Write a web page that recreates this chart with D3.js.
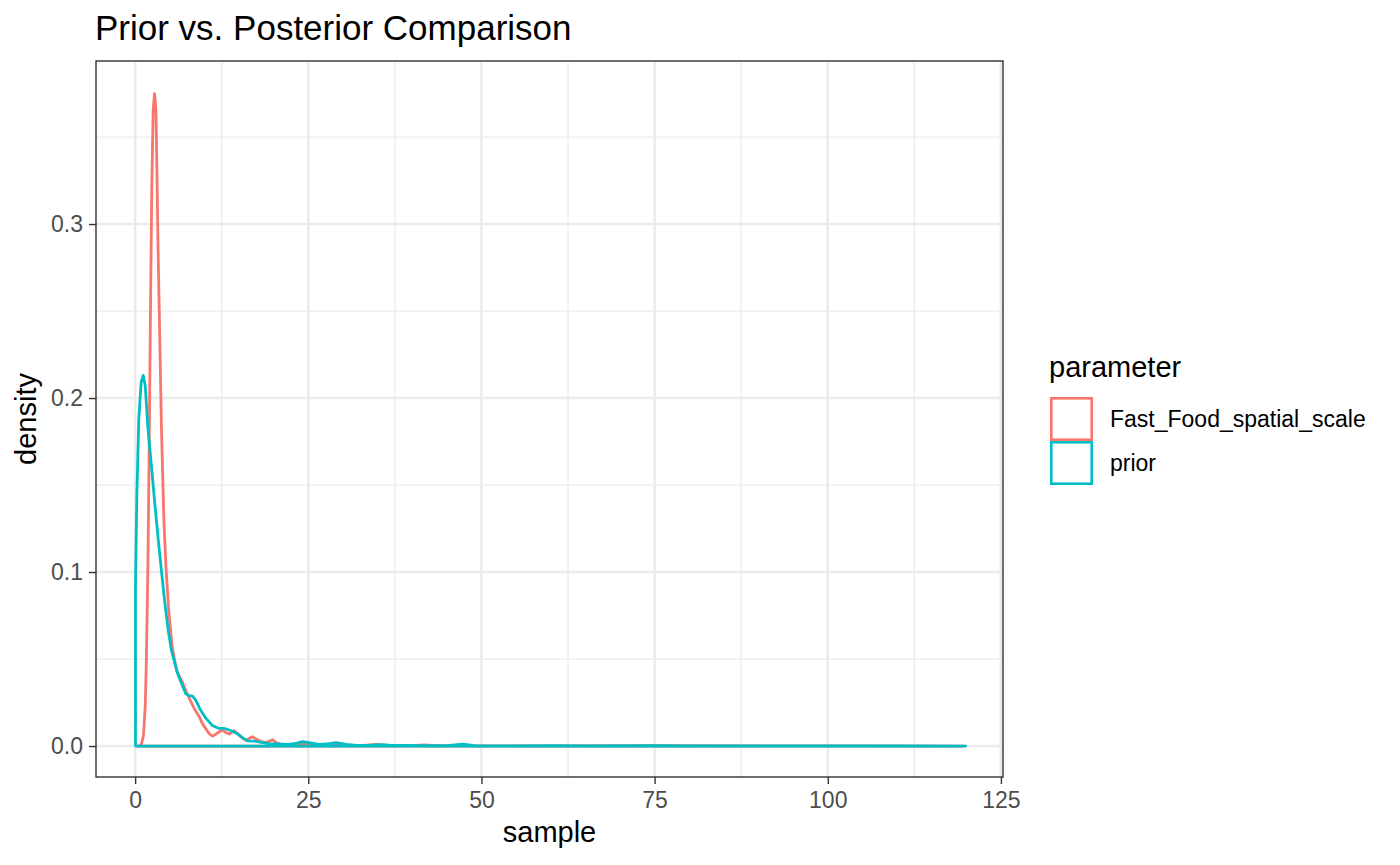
<!DOCTYPE html>
<html>
<head>
<meta charset="utf-8">
<script src="https://cdn.jsdelivr.net/npm/d3@7"></script>
<style>
  html, body { margin: 0; padding: 0; background: #fff; }
  text { font-family: "Liberation Sans", Arial, Helvetica, sans-serif; }
</style>
</head>
<body>
<div id="chart"></div>
<script>
// density curves
var postX = [0.5, 0.9, 1.2, 1.45, 1.6, 1.75, 1.85, 2.0, 2.18, 2.4, 2.6, 2.8, 3.0, 3.15, 3.3, 3.55, 3.8, 4.15,
  4.45, 4.85, 5.35, 6.0, 6.8, 7.4, 8.0, 8.6, 9.25, 9.7, 10.2, 10.7, 11.2, 11.9, 12.6, 13.1, 13.6, 14.3, 15.0,
  15.5, 16.0, 16.5, 16.95, 17.5, 18.2, 18.9, 19.4, 19.85, 20.4, 21, 22, 23, 24.2, 25.5, 27, 29, 31, 33, 34.8,
  37, 40, 41.8, 44, 47, 50, 60, 75, 90, 105, 119.5];
var postDensity = [0, 0.001, 0.006, 0.022, 0.045, 0.08, 0.105, 0.16, 0.236, 0.32, 0.365, 0.375, 0.366, 0.33,
  0.288, 0.236, 0.183, 0.13, 0.103, 0.078, 0.057, 0.043, 0.037, 0.031, 0.026, 0.021, 0.017, 0.013, 0.010, 0.007,
  0.0057, 0.0075, 0.0092, 0.0078, 0.0069, 0.0088, 0.0065, 0.0045, 0.0034, 0.0045, 0.0054, 0.004, 0.0025, 0.002,
  0.0028, 0.0036, 0.0018, 0.001, 0.0008, 0.001, 0.0014, 0.0008, 0.0005, 0.0008, 0.0003, 0.0004, 0.0009, 0.0002,
  0.0002, 0.0006, 0.0001, 0.0002, 0.0001, 0.0001, 0.0002, 0.0001, 0.00005, 0];

var priorX = [0.05, 0.24, 0.53, 0.87, 1.17, 1.46, 1.84, 2.33, 2.8, 3.3, 3.79, 4.27, 4.76, 5.24, 5.7, 6.2, 6.7,
  7.3, 7.8, 8.3, 8.8, 9.4, 10.2, 11.1, 12.1, 12.8, 13.6, 14.2, 14.8, 15.5, 16.2, 17.2, 18.4, 19.5, 20.5, 22,
  23.2, 24.2, 25.3, 26.6, 28, 29, 30.5, 32, 34, 35.5, 37, 39, 42, 45, 47.3, 49, 55, 60, 65, 75, 80, 90, 100,
  110, 119.9];
var priorDensity = [0.092, 0.143, 0.188, 0.209, 0.213, 0.207, 0.183, 0.162, 0.141, 0.12, 0.101, 0.083, 0.067,
  0.055, 0.048, 0.041, 0.036, 0.030, 0.029, 0.0287, 0.026, 0.021, 0.016, 0.012, 0.0101, 0.0102, 0.0092, 0.0082,
  0.0069, 0.0048, 0.003, 0.0028, 0.002, 0.0014, 0.0012, 0.001, 0.0015, 0.0025, 0.0018, 0.001, 0.0014, 0.0019,
  0.001, 0.0004, 0.0005, 0.0008, 0.0003, 0.0003, 0.0002, 0.0002, 0.0011, 0.0002, 0.0001, 0.0002, 0.0001,
  0.0002, 0.0001, 0.0001, 0.0001, 0.00005, 0];

var seriesNames = ['Fast_Food_spatial_scale', 'prior'];
var seriesColors = ['#F8766D', '#00BFC4'];
var xTicks = [0, 25, 50, 75, 100, 125];
var xMinor = [12.5, 37.5, 62.5, 87.5, 112.5];
var yTicks = [0, 0.1, 0.2, 0.3];
var yMinor = [0.05, 0.15, 0.25, 0.35];

var width = 1400, height = 865;
var panel = {left: 96, right: 1003, top: 61, bottom: 777};

var svg = d3.select('#chart').append('svg')
  .attr('width', width).attr('height', height)
  .style('display', 'block');
svg.append('rect').attr('width', width).attr('height', height).attr('fill', '#fff');

var x = d3.scaleLinear().domain([-5.65, 125.3]).range([panel.left, panel.right]);
var y = d3.scaleLinear().domain([-0.0178, 0.3937]).range([panel.bottom, panel.top]);

// grid
var grid = svg.append('g');
grid.selectAll('.xminor').data(xMinor).enter().append('line')
  .attr('x1', x).attr('x2', x).attr('y1', panel.top).attr('y2', panel.bottom)
  .attr('stroke', '#EBEBEB').attr('stroke-width', 1.3);
grid.selectAll('.yminor').data(yMinor).enter().append('line')
  .attr('y1', y).attr('y2', y).attr('x1', panel.left).attr('x2', panel.right)
  .attr('stroke', '#EBEBEB').attr('stroke-width', 1.3);
grid.selectAll('.xmajor').data(xTicks).enter().append('line')
  .attr('x1', x).attr('x2', x).attr('y1', panel.top).attr('y2', panel.bottom)
  .attr('stroke', '#EBEBEB').attr('stroke-width', 2.6);
grid.selectAll('.ymajor').data(yTicks).enter().append('line')
  .attr('y1', y).attr('y2', y).attr('x1', panel.left).attr('x2', panel.right)
  .attr('stroke', '#EBEBEB').attr('stroke-width', 2.6);

// density outlines, closed along the baseline like geom_density
var line = d3.line().x(function(d) { return x(d[0]); }).y(function(d) { return y(d[1]); });
function outline(xs, ys) {
  var pts = xs.map(function(v, i) { return [v, ys[i]]; });
  return [[xs[0], 0]].concat(pts, [[xs[xs.length - 1], 0]]);
}
var series = [outline(postX, postDensity), outline(priorX, priorDensity)];
var plot = svg.append('g');
series.forEach(function(pts, i) {
  plot.append('path')
    .attr('d', line(pts) + 'Z')
    .attr('fill', 'none')
    .attr('stroke', seriesColors[i])
    .attr('stroke-width', 2.8)
    .attr('stroke-linejoin', 'round');
});

// panel border
svg.append('rect')
  .attr('x', panel.left).attr('y', panel.top)
  .attr('width', panel.right - panel.left).attr('height', panel.bottom - panel.top)
  .attr('fill', 'none').attr('stroke', '#333333').attr('stroke-width', 1.4);

// axes
var xAxis = svg.append('g').attr('transform', 'translate(0,' + panel.bottom + ')')
  .call(d3.axisBottom(x).tickValues(xTicks).tickSize(7).tickPadding(8).tickFormat(d3.format('d')));
var yAxis = svg.append('g').attr('transform', 'translate(' + panel.left + ',0)')
  .call(d3.axisLeft(y).tickValues(yTicks).tickSize(7).tickPadding(6).tickFormat(d3.format('.1f')));
[xAxis, yAxis].forEach(function(a) {
  a.select('.domain').remove();
  a.selectAll('.tick line').attr('stroke', '#333333').attr('stroke-width', 1.4);
  a.selectAll('.tick text').attr('fill', '#4D4D4D')
    .style('font-size', '23px').style('font-family', '"Liberation Sans", Arial, sans-serif');
});

// titles
svg.append('text').attr('x', 95).attr('y', 40)
  .style('font-size', '35px').attr('fill', '#000').text('Prior vs. Posterior Comparison');
svg.append('text').attr('x', (panel.left + panel.right) / 2).attr('y', 842)
  .attr('text-anchor', 'middle').style('font-size', '29px').attr('fill', '#000').text('sample');
svg.append('text').attr('transform', 'translate(36,' + ((panel.top + panel.bottom) / 2) + ') rotate(-90)')
  .attr('text-anchor', 'middle').style('font-size', '29px').attr('fill', '#000').text('density');

// legend
var legend = svg.append('g').attr('transform', 'translate(1049,0)');
legend.append('text').attr('x', 0).attr('y', 377).style('font-size', '29px').attr('fill', '#000')
  .text('parameter');
var keySize = 44, keyTop = 397;
seriesNames.forEach(function(name, i) {
  var ky = keyTop + i * keySize;
  legend.append('rect')
    .attr('x', 2.3).attr('y', ky + 1.3).attr('width', keySize - 3.6).attr('height', keySize - 2.6)
    .attr('fill', '#fff').attr('stroke', seriesColors[i]).attr('stroke-width', 2.6);
  legend.append('text').attr('x', 61).attr('y', ky + keySize / 2 + 8)
    .style('font-size', '23px').attr('fill', '#000').text(name);
});
</script>
</body>
</html>
